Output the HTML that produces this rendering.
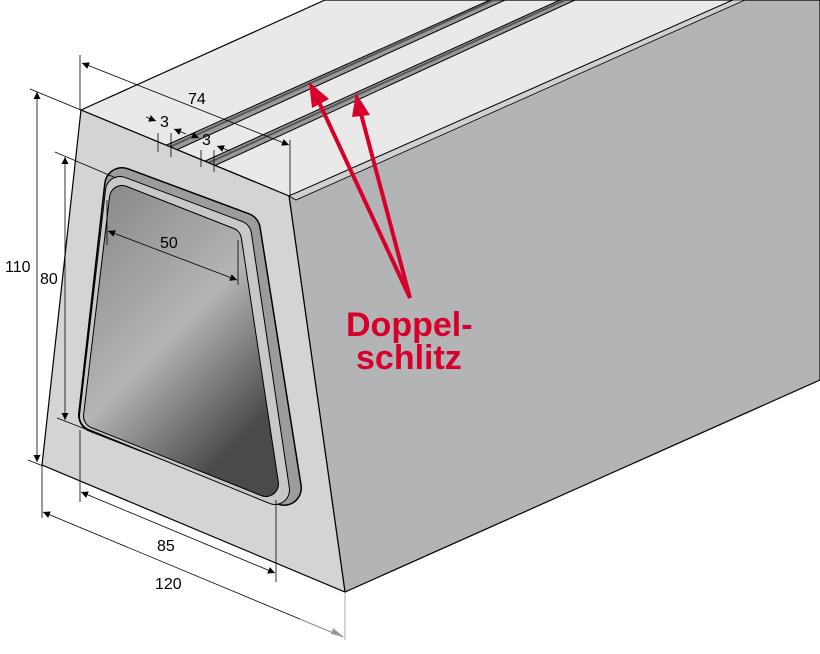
<!DOCTYPE html>
<html><head><meta charset="utf-8"><style>
html,body{margin:0;padding:0;background:#fff;width:820px;height:654px;overflow:hidden}
svg{display:block}
text{font-family:"Liberation Sans",sans-serif}
</style></head><body>
<svg width="820" height="654" viewBox="0 0 820 654" xmlns="http://www.w3.org/2000/svg">
<defs>
<linearGradient id="win" x1="0" y1="0" x2="0.6" y2="1">
<stop offset="0" stop-color="#8a8a8a"/>
<stop offset="0.55" stop-color="#b4b4b4"/>
<stop offset="1" stop-color="#4a4a4a"/>
</linearGradient>
<marker id="ar" viewBox="0 0 10 10" refX="10" refY="5" markerWidth="9" markerHeight="7" orient="auto-start-reverse" markerUnits="userSpaceOnUse"><path d="M0,0L10,5L0,10z" fill="#000"/></marker>
</defs>
<polygon points="289,196 733,0 820,0 820,380 345,592" fill="#b3b4b6" stroke="#000" stroke-width="1.2"/>
<polygon points="81,110 325,0 733,0 289,196" fill="#e9e9e9" stroke="#000" stroke-width="1.2"/>
<polygon points="289,196 733,0 745,0 296,200" fill="#d0d0d0" stroke="#000" stroke-width="0.8"/>
<polygon points="160,148 490,0 505,0 172,152" fill="#9a9a9a" stroke="#000" stroke-width="1"/>
<line x1="163" y1="150" x2="494" y2="0" stroke="#555" stroke-width="2"/>
<polygon points="203,162 560,0 575,0 214,166" fill="#9a9a9a" stroke="#000" stroke-width="1"/>
<line x1="206" y1="164" x2="565" y2="0" stroke="#555" stroke-width="2"/>
<polygon points="81,110 289,196 345,592 42,465" fill="#d4d4d4" stroke="#000" stroke-width="1.2"/>
<!-- hole -->
<polygon points="122,185 243,230 284,488 96,415" fill="#000" stroke="#000" stroke-width="36" stroke-linejoin="round"/>
<polygon points="122,185 243,230 284,488 96,415" fill="#9c9c9c" stroke="#9c9c9c" stroke-width="33" stroke-linejoin="round"/>
<polygon points="120,191 237,235 275,490 94,416" fill="#000" stroke="#000" stroke-width="30" stroke-linejoin="round"/>
<polygon points="120,191 237,235 275,490 94,416" fill="#c8c8c8" stroke="#c8c8c8" stroke-width="28" stroke-linejoin="round"/>
<polygon points="122,198 229,240 266,484 96,416" fill="#000" stroke="#000" stroke-width="26" stroke-linejoin="round"/>
<polygon points="122,198 229,240 266,484 96,416" fill="url(#win)" stroke="url(#win)" stroke-width="24" stroke-linejoin="round"/>
<g stroke="#000" stroke-width="0.8" fill="none">
<line x1="80" y1="55" x2="80" y2="110"/>
<line x1="290" y1="140" x2="290" y2="196"/>
<line x1="82" y1="63" x2="289" y2="145" marker-start="url(#ar)" marker-end="url(#ar)"/>
<line x1="30" y1="89" x2="81" y2="110"/>
<line x1="37" y1="92" x2="37" y2="462" marker-start="url(#ar)" marker-end="url(#ar)"/>
<line x1="28" y1="460" x2="43" y2="466"/>
<line x1="55" y1="152" x2="116" y2="178"/>
<line x1="65" y1="157" x2="65" y2="420" marker-start="url(#ar)" marker-end="url(#ar)"/>
<line x1="57" y1="418" x2="88" y2="430"/>
<line x1="107" y1="200" x2="107" y2="245"/>
<line x1="238" y1="240" x2="238" y2="285"/>
<line x1="108" y1="231" x2="237" y2="280" marker-start="url(#ar)" marker-end="url(#ar)"/>
<line x1="80" y1="430" x2="80" y2="502"/>
<line x1="276" y1="500" x2="276" y2="582"/>
<line x1="81" y1="492" x2="275" y2="573" marker-start="url(#ar)" marker-end="url(#ar)"/>
<line x1="42" y1="465" x2="42" y2="518"/>
<line x1="43" y1="512" x2="343" y2="637" marker-start="url(#ar)"/>
<line x1="158" y1="133" x2="158" y2="152"/>
<line x1="171" y1="133" x2="171" y2="157"/>
<line x1="201" y1="150" x2="201" y2="167"/>
<line x1="214" y1="150" x2="214" y2="172"/>
<line x1="146" y1="117" x2="156" y2="121" marker-end="url(#ar)"/>
<line x1="186" y1="134" x2="174" y2="129" marker-end="url(#ar)"/>
<line x1="190" y1="134" x2="199" y2="138" marker-end="url(#ar)"/>
<line x1="230" y1="151" x2="217" y2="146" marker-end="url(#ar)"/>
</g>
<line x1="345" y1="592" x2="345" y2="640" stroke="#999" stroke-width="0.8"/>
<line x1="300" y1="619" x2="343" y2="637" stroke="#999" stroke-width="0.8"/>
<path d="M344,637 L333,628 L331,634z" fill="#999"/>
<g font-size="16" fill="#000">
<text x="188" y="104">74</text>
<text x="160" y="127">3</text>
<text x="202" y="145">3</text>
<text x="5" y="272">110</text>
<text x="40" y="284">80</text>
<text x="160" y="248">50</text>
<text x="157" y="551">85</text>
<text x="155" y="589">120</text>
</g>
<g stroke="#d6002a" stroke-width="4" fill="none">
<line x1="410" y1="298" x2="318" y2="100"/>
<line x1="410" y1="298" x2="360" y2="110"/>
</g>
<path d="M309,82 L312,108 L329,99z" fill="#d6002a"/>
<path d="M356,93 L352,117 L370,115z" fill="#d6002a"/>
<g font-size="34" font-weight="bold" fill="#d6002a">
<text x="346" y="336">Doppel-</text>
<text x="356" y="369">schlitz</text>
</g>
</svg>
</body></html>
